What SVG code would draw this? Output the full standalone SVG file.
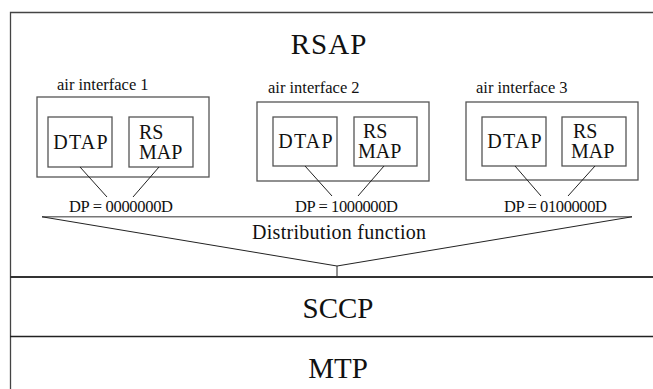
<svg xmlns="http://www.w3.org/2000/svg" width="653" height="389" viewBox="0 0 653 389" font-family="'Liberation Serif', 'Times New Roman', Tinos, 'DejaVu Serif', serif">
<style>
text{font-family:'Liberation Serif','Times New Roman',Tinos,'DejaVu Serif',serif;fill:#111}
.big{font-size:29px;text-anchor:middle}
.mid{font-size:20px}
.dt{font-size:20px;text-anchor:middle;letter-spacing:1.2px}
.sm{font-size:16.5px}
.box{fill:none;stroke:#555;stroke-width:1.3}
.ln{fill:none;stroke:#222;stroke-width:1}
</style>
<rect width="653" height="389" fill="#fff"/>
<g id="frame">
<path d="M653 12.5H10.5V389" fill="none" stroke="#444" stroke-width="1.3"/>
</g>
<g id="rsap"><text class="big" x="329" y="54" letter-spacing="1">RSAP</text></g>
<g id="air1">
<text class="sm" x="57" y="90">air interface 1</text>
<rect class="box" x="37" y="97" width="172" height="80"/>
<g id="dtap1"><rect class="box" x="48" y="117" width="64" height="50"/><text class="dt" x="81" y="149">DTAP</text></g>
<g id="rsmap1"><rect class="box" x="129" y="117" width="64" height="50"/><text class="mid" x="139" y="139">RS</text><text class="mid" x="139" y="159">MAP</text></g>
</g>
<g id="air2">
<text class="sm" x="268" y="93">air interface 2</text>
<rect class="box" x="257" y="102" width="172" height="79"/>
<g id="dtap2"><rect class="box" x="273" y="117" width="64" height="49"/><text class="dt" x="306" y="148">DTAP</text></g>
<g id="rsmap2"><rect class="box" x="354" y="117" width="63" height="49"/><text class="mid" x="363" y="138">RS</text><text class="mid" x="358" y="158">MAP</text></g>
</g>
<g id="air3">
<text class="sm" x="476" y="93">air interface 3</text>
<rect class="box" x="466" y="102" width="172" height="78"/>
<g id="dtap3"><rect class="box" x="482" y="117" width="64" height="49"/><text class="dt" x="515" y="148">DTAP</text></g>
<g id="rsmap3"><rect class="box" x="562" y="117" width="64" height="49"/><text class="mid" x="573" y="138">RS</text><text class="mid" x="571" y="158">MAP</text></g>
</g>
<g id="dp-labels">
<text class="sm" x="69" y="212" textLength="104">DP = 0000000D</text>
<text class="sm" x="295" y="212" textLength="103">DP = 1000000D</text>
<text class="sm" x="504" y="212" textLength="103">DP = 0100000D</text>
</g>
<g id="distribution">
<line x1="42" y1="216.8" x2="632" y2="216.8" stroke="#777" stroke-width="1.5"/>
<text x="339" y="239" font-size="20" text-anchor="middle" textLength="174">Distribution function</text>
</g>
<g id="sccp"><text class="big" x="338" y="318">SCCP</text></g>
<g id="mtp"><text class="big" x="338" y="378">MTP</text></g>
<g id="connectors">
<path class="ln" d="M80 167L107 197M159 167L133 197"/>
<path class="ln" d="M305 166L332 196M384 166L358 196"/>
<path class="ln" d="M515 166L541 196M595 166L568 196"/>
<path class="ln" d="M42 216.8L337 266L632 216.8M337 266V277"/>
</g>
<g id="layers">
<line x1="10" y1="277" x2="653" y2="277" stroke="#333" stroke-width="2"/>
<line x1="10" y1="336.5" x2="653" y2="336.5" stroke="#222" stroke-width="1.3"/>
</g>
</svg>
